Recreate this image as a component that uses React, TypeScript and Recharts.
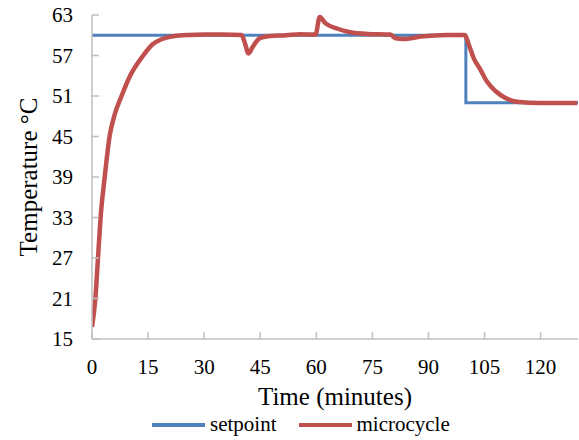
import { LineChart, Line, XAxis, YAxis, Legend } from 'recharts';

const timeTicks = [0, 15, 30, 45, 60, 75, 90, 105, 120];
const tempTicks = [15, 21, 27, 33, 39, 45, 51, 57, 63];

// setpoint step profile (minutes, °C)
const setpointTime = [0, 100, 100, 130];
const setpointTemp = [60, 60, 50, 50];

// measured microcycle temperature (minutes, °C)
const microTime = [
  0, 0.9, 1.6, 2.3, 3.4, 4.7, 6.1, 7.9, 10.1, 13.7, 16.3, 18.6, 22.1, 26, 30, 35, 40, 40.8, 41.9, 43, 45,
  47.7, 52, 55.7, 59.8, 60.9, 62.4, 65.5, 69.1, 73.6, 79.8, 81.2, 83.4, 87.9, 95, 99.7, 100.8, 102.1, 103.9,
  105.7, 108, 110.6, 114.2, 117.3, 122, 129.8,
];
const microTemp = [
  16.8, 21, 27, 33, 39, 45, 48.3, 51, 53.9, 57, 58.7, 59.4, 59.9, 60.05, 60.1, 60.1, 60.05, 59, 57.3, 58.3,
  59.6, 59.9, 60.0, 60.15, 60.1, 62.7, 61.8, 61.0, 60.45, 60.2, 60.1, 59.55, 59.45, 59.8, 60.05, 60.05, 58.6,
  56.6, 54.9, 53.1, 51.7, 50.7, 50.1, 50.0, 49.95, 49.95,
];

const setpointData = setpointTime.map((t, i) => ({ t, v: setpointTemp[i] }));
const microData = microTime.map((t, i) => ({ t, v: microTemp[i] }));

const BLUE = '#4f81bd';
const RED = '#c0504d';
const AXIS = '#bfbfbf';
const FONT = "'Times New Roman', Tinos, 'Liberation Serif', Times, serif";

const legendItems = [
  { name: 'setpoint', color: BLUE },
  { name: 'microcycle', color: RED },
];

const LegendContent = () => (
  <div style={{ display: 'flex', alignItems: 'center', fontFamily: FONT, fontSize: 21, color: '#000' }}>
    {legendItems.map((it) => (
      <div key={it.name} style={{ display: 'flex', alignItems: 'center', marginRight: 22 }}>
        <span style={{ display: 'inline-block', width: 53, height: 4, background: it.color, marginRight: 5 }} />
        <span>{it.name}</span>
      </div>
    ))}
  </div>
);

const App = () => {
  const tickStyle = { fill: '#000', fontSize: 21, fontFamily: FONT };
  return (
    <div style={{ position: 'absolute', left: 0, top: 0, fontFamily: FONT }}>
      <LineChart width={579} height={440} margin={{ top: 15, right: 1, left: 0, bottom: 16 }}>
        <XAxis
          dataKey="t"
          type="number"
          domain={[0, 130]}
          ticks={timeTicks}
          allowDataOverflow
          height={60}
          stroke={AXIS}
          strokeWidth={1.5}
          tickSize={-7}
          tickMargin={27}
          tick={tickStyle}
          label={{ value: 'Time (minutes)', position: 'insideBottom', offset: -6, fill: '#000', fontSize: 25, fontFamily: FONT }}
        />
        <YAxis
          dataKey="v"
          type="number"
          domain={[15, 63]}
          ticks={tempTicks}
          width={92}
          stroke={AXIS}
          strokeWidth={1.5}
          tickSize={-7}
          tickMargin={26}
          tick={tickStyle}
          label={{
            value: 'Temperature °C',
            angle: -90,
            position: 'insideLeft',
            offset: 28,
            style: { textAnchor: 'middle' },
            fill: '#000',
            fontSize: 25,
            fontFamily: FONT,
          }}
        />
        <Legend
          verticalAlign="bottom"
          content={<LegendContent />}
          wrapperStyle={{ left: 152, top: 412, width: 'auto' }}
        />
        <Line
          data={setpointData}
          dataKey="v"
          name="setpoint"
          type="linear"
          stroke={BLUE}
          strokeWidth={3}
          dot={false}
          isAnimationActive={false}
        />
        <Line
          data={microData}
          dataKey="v"
          name="microcycle"
          type="monotone"
          stroke={RED}
          strokeWidth={4.5}
          dot={false}
          isAnimationActive={false}
        />
      </LineChart>
    </div>
  );
};

export default App;
